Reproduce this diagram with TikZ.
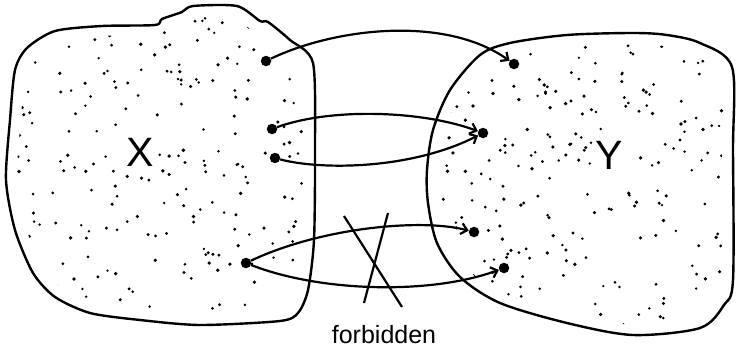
\documentclass[tikz,border=0pt]{standalone}
\usepackage{fontspec}
\setmainfont{Liberation Sans}
\usetikzlibrary{arrows.meta}
\newcommand\XblobPath{plot[smooth cycle,tension=0.45] coordinates {(55,31) (102,26) (155,25) (162,19) (182,12) (193,6) (237,6) (260,21) (268,22) (290,40) (313,63) (315,150) (314,240) (308,290) (298,313) (280,321) (200,325) (140,320) (90,313) (55,297) (33,273) (15,230) (6,180) (10,120) (15,70) (27,48)}}
\newcommand\YblobPath{plot[smooth cycle,tension=0.5] coordinates {(480,55) (510,43) (567,35) (633,33) (667,35) (700,43) (732,67) (733,150) (733,280) (724,305) (700,328) (633,335) (567,323) (500,303) (460,277) (437,243) (428,203) (427,170) (433,130) (450,90)}}
\tikzset{
  blob/.style={line width=2.4pt, line join=round},
  pt/.style={circle, fill=black, inner sep=0pt, minimum size=10.5pt},
  mapto/.style={line width=2.2pt, -{Straight Barb[length=6pt,width=11pt]}},
  crossline/.style={line width=2.2pt},
  speck/.style={fill=black},
  biglabel/.style={inner sep=0pt, font=\fontsize{41}{41}\selectfont},
}
\begin{document}
\begin{tikzpicture}[x=1pt,y=-1pt]
\useasboundingbox (0,0) rectangle (737,351);
% specks in X
\pgfmathsetseed{11}
\begin{scope}
  \clip[scale around={0.93:(160,165)}] \XblobPath;
  \foreach \i in {1,...,235} {
    \pgfmathsetmacro\dx{15+rnd*300}
    \pgfmathsetmacro\dy{10+rnd*315}
    \pgfmathsetmacro\rr{1.3+0.6*rnd}
    \pgfmathtruncatemacro\ok{(abs(\dx-140)<17 && abs(\dy-152)<20) ? 0 : 1}
    \ifnum\ok=1 \fill[speck] (\dx,\dy) circle (\rr pt); \fi
  }
\end{scope}
% specks in Y
\begin{scope}
  \clip[scale around={0.93:(580,185)}] \YblobPath;
  \foreach \i in {1,...,265} {
    \pgfmathsetmacro\dx{425+rnd*310}
    \pgfmathsetmacro\dy{30+rnd*305}
    \pgfmathsetmacro\rr{1.3+0.6*rnd}
    \pgfmathtruncatemacro\ok{(abs(\dx-609)<17 && abs(\dy-155)<20) ? 0 : 1}
    \ifnum\ok=1 \fill[speck] (\dx,\dy) circle (\rr pt); \fi
  }
\end{scope}
% outlines
\draw[blob] \XblobPath;
\draw[blob] \YblobPath;
% labels
\node[biglabel] (lx) at (140,152) {X};
\node[biglabel] (ly) at (609,155) {Y};
\node[anchor=base, inner sep=0pt, font=\fontsize{25}{25}\selectfont] (fb) at (384,343) {forbidden};
% points
\node[pt] (a1) at (266,61) {};
\node[pt] (a2) at (272,129) {};
\node[pt] (a3) at (275,158) {};
\node[pt] (a4) at (246,263) {};
\node[pt] (b1) at (514,64) {};
\node[pt] (b2) at (483,133) {};
\node[pt] (b3) at (474,232) {};
\node[pt] (b4) at (504,268) {};
% mappings
\draw[mapto] (a1) .. controls (335,28) and (445,15) .. (b1);
\draw[mapto] (a2) .. controls (330,108) and (420,110) .. (b2);
\draw[mapto] (a3) .. controls (320,170) and (410,170) .. (b2);
\draw[mapto] (a4) .. controls (320,228) and (420,218) .. (b3);
\draw[mapto] (a4) .. controls (320,292) and (430,295) .. (b4);
% forbidden cross
\coordinate (c1a) at (344,216);
\coordinate (c1b) at (402,307);
\coordinate (c2a) at (388,213);
\coordinate (c2b) at (364,303);
\draw[crossline] (c1a) -- (c1b);
\draw[crossline] (c2a) -- (c2b);
\end{tikzpicture}
\end{document}
